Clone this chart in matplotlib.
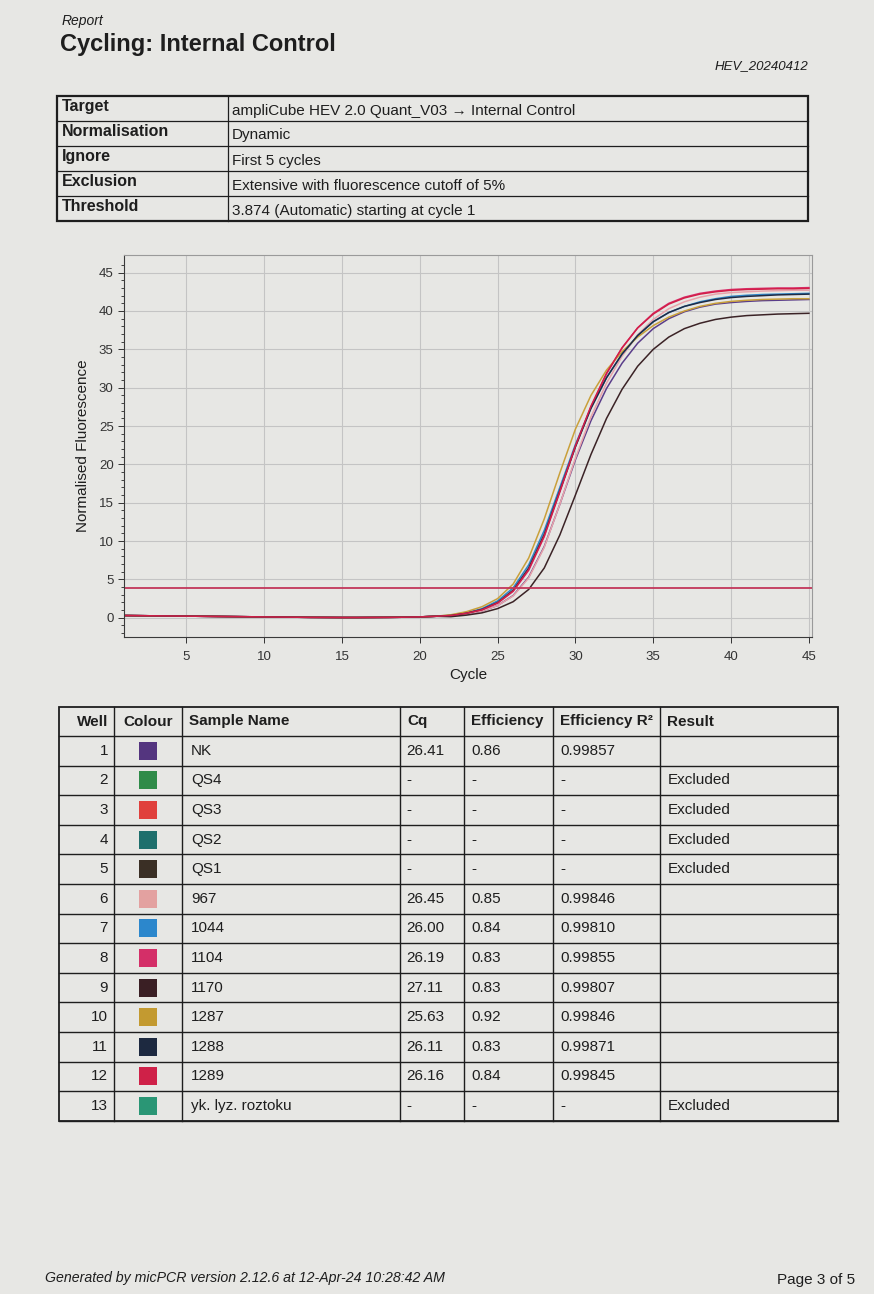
import numpy as np
import matplotlib.pyplot as plt
from matplotlib.patches import Rectangle

plt.rcParams['font.family'] = ['Liberation Sans', 'DejaVu Sans']

# ---- report header ----
report_label = 'Report'
title = 'Cycling: Internal Control'
run_name = 'HEV_20240412'
settings_keys = ['Target', 'Normalisation', 'Ignore', 'Exclusion', 'Threshold']
settings_vals = ['ampliCube HEV 2.0 Quant_V03 \u2192 Internal Control',
                 'Dynamic',
                 'First 5 cycles',
                 'Extensive with fluorescence cutoff of 5%',
                 '3.874 (Automatic) starting at cycle 1']
footer_left = 'Generated by micPCR version 2.12.6 at 12-Apr-24 10:28:42 AM'
footer_right = 'Page 3 of 5'

# ---- amplification curves ----
threshold = 3.874
cycles = list(range(1, 46))
baseline = [0.30, 0.28, 0.26, 0.24, 0.22, 0.20, 0.18, 0.16, 0.14, 0.12,
            0.10, 0.08, 0.06, 0.05, 0.04, 0.04, 0.05, 0.06, 0.08, 0.12, 0.20]
# cycles 22..45
rise_nk = [0.25, 0.5, 0.9, 1.6, 2.9, 5.3, 9.3, 14.8, 20.6, 25.7, 29.9, 33.2,
           35.8, 37.7, 39.0, 39.9, 40.5, 40.9, 41.1, 41.25, 41.35, 41.4, 41.45, 41.5]
rise_967 = [0.25, 0.5, 0.9, 1.6, 2.85, 5.2, 9.2, 14.8, 20.8, 26.2, 30.6, 34.1,
            36.9, 38.9, 40.3, 41.2, 41.8, 42.2, 42.4, 42.5, 42.6, 42.65, 42.7, 42.7]
rise_1044 = [0.35, 0.65, 1.2, 2.2, 3.9, 6.9, 11.4, 17.0, 22.6, 27.4, 31.3, 34.4,
             36.8, 38.6, 39.8, 40.6, 41.2, 41.6, 41.9, 42.05, 42.15, 42.2, 42.25, 42.3]
rise_1104 = [0.3, 0.6, 1.05, 1.9, 3.45, 6.2, 10.6, 16.4, 22.3, 27.5, 31.8, 35.2,
             37.8, 39.7, 41.0, 41.8, 42.3, 42.6, 42.8, 42.9, 42.95, 43.0, 43.0, 43.05]
rise_1170 = [0.15, 0.35, 0.65, 1.2, 2.1, 3.7, 6.5, 10.8, 16.0, 21.3, 26.0, 29.8,
             32.8, 35.0, 36.6, 37.7, 38.4, 38.9, 39.2, 39.4, 39.5, 39.6, 39.65, 39.7]
rise_1287 = [0.4, 0.8, 1.45, 2.5, 4.4, 7.8, 12.9, 18.9, 24.6, 29.0, 32.3, 34.7,
             36.6, 38.1, 39.2, 40.0, 40.6, 41.0, 41.25, 41.4, 41.5, 41.55, 41.6, 41.6]
rise_1288 = [0.3, 0.6, 1.1, 2.0, 3.6, 6.5, 10.9, 16.6, 22.3, 27.3, 31.3, 34.4,
             36.8, 38.6, 39.8, 40.6, 41.1, 41.5, 41.75, 41.9, 42.0, 42.1, 42.15, 42.2]
rise_1289 = [0.3, 0.6, 1.05, 1.95, 3.5, 6.3, 10.7, 16.5, 22.4, 27.6, 31.9, 35.2,
             37.8, 39.6, 40.9, 41.7, 42.2, 42.5, 42.7, 42.8, 42.85, 42.9, 42.9, 42.95]

curve_names = ['NK', '967', '1044', '1104', '1170', '1287', '1288', '1289']
curve_colors = ['#5a3d8a', '#e8a2aa', '#2f86c8', '#d8306c', '#3b2326',
                '#c9a03a', '#1f2b45', '#d21e48']
curve_rises = [rise_nk, rise_967, rise_1044, rise_1104, rise_1170,
               rise_1287, rise_1288, rise_1289]

# ---- results table ----
table_header = ['Well', 'Colour', 'Sample Name', 'Cq', 'Efficiency',
                'Efficiency R\u00b2', 'Result']
wells = [1, 2, 3, 4, 5, 6, 7, 8, 9, 10, 11, 12, 13]
well_colors = ['#54357f', '#2f8b48', '#e0403c', '#1f6f6c', '#3a2f25', '#e3a1a0',
               '#2c87cc', '#d42f68', '#3a1f24', '#c39a30', '#1d2940', '#cf2148',
               '#2a9675']
sample_names = ['NK', 'QS4', 'QS3', 'QS2', 'QS1', '967', '1044', '1104', '1170',
                '1287', '1288', '1289', 'yk. lyz. roztoku']
cq_vals = ['26.41', '-', '-', '-', '-', '26.45', '26.00', '26.19', '27.11',
           '25.63', '26.11', '26.16', '-']
eff_vals = ['0.86', '-', '-', '-', '-', '0.85', '0.84', '0.83', '0.83',
            '0.92', '0.83', '0.84', '-']
r2_vals = ['0.99857', '-', '-', '-', '-', '0.99846', '0.99810', '0.99855',
           '0.99807', '0.99846', '0.99871', '0.99845', '-']
results = ['', 'Excluded', 'Excluded', 'Excluded', 'Excluded', '', '', '', '',
           '', '', '', 'Excluded']

W, H = 874, 1294
paper = '#e7e7e4'
ink = '#1e1e1e'

fig = plt.figure(figsize=(W / 100, H / 100), dpi=100, facecolor=paper)
page = fig.add_axes([0, 0, 1, 1])
page.set_xlim(0, W)
page.set_ylim(H, 0)
page.axis('off')

page.text(62, 21, report_label, fontsize=10, style='italic', color=ink, va='center')
page.text(60, 45, title, fontsize=17, fontweight='bold', color=ink, va='center')
page.text(808, 66, run_name, fontsize=9.5, style='italic', color=ink, va='center', ha='right')

# settings table
tx0, tx1, tx2 = 57, 228, 808
ty0, rh = 96, 25
for i, (k, v) in enumerate(zip(settings_keys, settings_vals)):
    yc = ty0 + rh * (i + 0.5)
    page.text(tx0 + 5, yc - 2, k, fontsize=11.5, fontweight='bold', color=ink, va='center')
    page.text(tx1 + 4, yc + 2, v, fontsize=11, color=ink, va='center')
for i in range(1, len(settings_keys)):
    page.plot([tx0, tx2], [ty0 + rh * i] * 2, color=ink, lw=0.9)
page.plot([tx1, tx1], [ty0, ty0 + rh * len(settings_keys)], color=ink, lw=0.9)
page.add_patch(Rectangle((tx0, ty0), tx2 - tx0, rh * len(settings_keys),
                         fill=False, ec=ink, lw=1.6))

# chart
ax = fig.add_axes([124 / W, 1 - 637 / H, (812 - 124) / W, (637 - 255) / H])
ax.set_facecolor(paper)
full_rises = [baseline + r for r in curve_rises]
for name, col, ys in zip(curve_names, curve_colors, full_rises):
    ax.plot(cycles, ys, color=col, lw=1.1, label=name)
ax.axhline(threshold, color='#c2365a', lw=1.3)
ax.set_xlim(1, 45.2)
ax.set_ylim(-2.5, 47.3)
ax.set_xticks(np.arange(5, 46, 5))
ax.set_yticks(np.arange(0, 46, 5))
ax.set_yticks(np.arange(-2, 47, 1), minor=True)
ax.grid(True, which='major', color='#c4c4c4', lw=0.8)
ax.tick_params(axis='both', labelsize=9.5, colors='#333333', length=4, width=0.7)
ax.tick_params(axis='y', which='minor', length=2, width=0.5)
ax.tick_params(axis='x', pad=6)
for s in ['left', 'bottom']:
    ax.spines[s].set_color('#3a3a3a')
for s in ['top', 'right']:
    ax.spines[s].set_color('#9a9a9a')
ax.set_xlabel('Cycle', fontsize=11, color=ink, labelpad=4)
ax.set_ylabel('Normalised Fluorescence', fontsize=11, color=ink, labelpad=6)

# results table
cols = [59, 114, 182, 400, 464, 553, 660, 838]
hy0, hy1 = 707, 736
row_h = 29.6
n = len(wells)
bottom = hy1 + row_h * n
fs = 11
for j, h in enumerate(table_header):
    if j == 0:
        page.text(cols[1] - 6, (hy0 + hy1) / 2, h, fontsize=fs, fontweight='bold',
                  color=ink, va='center', ha='right')
    elif j == 1:
        page.text((cols[1] + cols[2]) / 2, (hy0 + hy1) / 2, h, fontsize=fs,
                  fontweight='bold', color=ink, va='center', ha='center')
    else:
        page.text(cols[j] + 7, (hy0 + hy1) / 2, h, fontsize=fs, fontweight='bold',
                  color=ink, va='center')
for i in range(n):
    yc = hy1 + row_h * (i + 0.5)
    page.text(cols[1] - 6, yc, str(wells[i]), fontsize=fs, color=ink, va='center', ha='right')
    cx = (cols[1] + cols[2]) / 2
    page.add_patch(Rectangle((cx - 9, yc - 9), 18, 18, color=well_colors[i], lw=0))
    page.text(cols[2] + 9, yc, sample_names[i], fontsize=fs, color=ink, va='center')
    page.text(cols[3] + 6, yc, cq_vals[i], fontsize=fs, color=ink, va='center')
    page.text(cols[4] + 7, yc, eff_vals[i], fontsize=fs, color=ink, va='center')
    page.text(cols[5] + 7, yc, r2_vals[i], fontsize=fs, color=ink, va='center')
    page.text(cols[6] + 8, yc, results[i], fontsize=fs, color=ink, va='center')
for i in range(n + 1):
    page.plot([cols[0], cols[-1]], [hy1 + row_h * i] * 2, color=ink, lw=1.0)
for x in cols[1:-1]:
    page.plot([x, x], [hy0, bottom], color=ink, lw=1.0)
page.add_patch(Rectangle((cols[0], hy0), cols[-1] - cols[0], bottom - hy0,
                         fill=False, ec=ink, lw=1.3))

page.text(45, 1278, footer_left, fontsize=10.2, style='italic', color=ink, va='center')
page.text(855, 1280, footer_right, fontsize=11, color=ink, va='center', ha='right')

fig.savefig('out.png', dpi=100, facecolor=paper)
